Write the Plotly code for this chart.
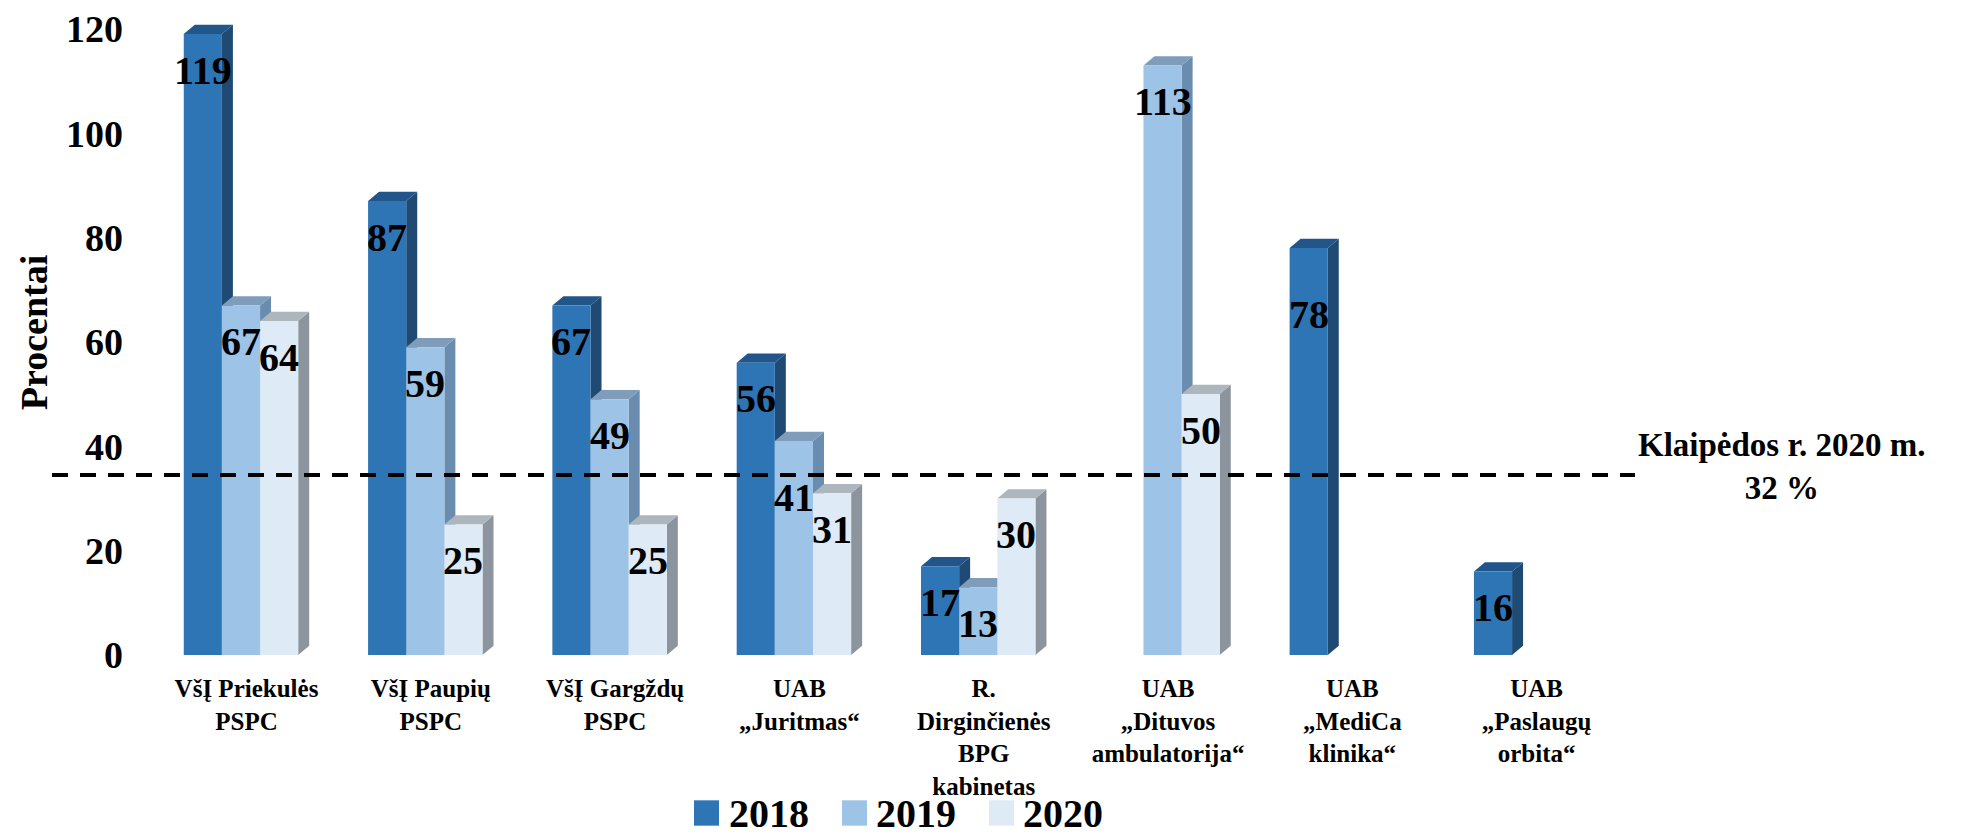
import plotly.graph_objects as go

# ---------------- data ----------------
categories = [
    "VšĮ Priekulės<br>PSPC",
    "VšĮ Paupių<br>PSPC",
    "VšĮ Gargždų<br>PSPC",
    "UAB<br>„Juritmas“",
    "R.<br>Dirginčienės<br>BPG<br>kabinetas",
    "UAB<br>„Dituvos<br>ambulatorija“",
    "UAB<br>„MediCa<br>klinika“",
    "UAB<br>„Paslaugų<br>orbita“",
]
years = ["2018", "2019", "2020"]
v2018 = [119, 87, 67, 56, 17, None, 78, 16]
v2019 = [67, 59, 49, 41, 13, 113, None, None]
v2020 = [64, 25, 25, 31, 30, 50, None, None]
y_ticks = [0, 20, 40, 60, 80, 100, 120]
ref_line_value = 34.5        # position of the dashed line as drawn
ref_label = "Klaipėdos r. 2020 m.<br>32 %"
y_title = "Procentai"

series = [v2018, v2019, v2020]

# ---------------- style ----------------
FONT = "Liberation Serif, Times New Roman, serif"
front_colors = ["#2E75B6", "#9DC3E6", "#DEEBF7"]
side_colors = ["#1F4A73", "#6A8CAE", "#8C959D"]
top_colors = ["#22568A", "#7F9DBB", "#ADB5BD"]

W, H = 1983, 837
L, R, T, B = 120, 343, 0, 190
plot_w = W - L - R
plot_h = H - T - B
x_range = [-0.613, 7.634]
y_range = [0, plot_h / 5.35]
px_x = plot_w / (x_range[1] - x_range[0])
px_y = plot_h / (y_range[1] - y_range[0])
bar_w = 0.207
dx = 11 / px_x
dy = 9.5 / px_y
label_shift = -36
# extra downward shift for labels moved clear of the dashed line (series index, category index)
label_extra_shift = {(1, 3): -20, (0, 6): -30}


def paper_x(px):
    return (px - L) / plot_w


def paper_y(py):
    return (H - B - py) / plot_h


fig = go.Figure()
shapes = []
annotations = []

for k, vals in enumerate(series):
    xs = [i + (k - 1) * bar_w for i in range(len(categories))]
    fig.add_trace(go.Bar(
        x=xs, y=vals, width=bar_w, name=years[k],
        marker=dict(color=front_colors[k], line=dict(width=0)),
        showlegend=False, hoverinfo="y",
    ))
    for i, (x, v) in enumerate(zip(xs, vals)):
        if v is None:
            continue
        x0, x1 = x - bar_w / 2, x + bar_w / 2
        side = f"M {x1},0 L {x1 + dx},{dy} L {x1 + dx},{v + dy} L {x1},{v} Z"
        top = f"M {x0},{v} L {x0 + dx},{v + dy} L {x1 + dx},{v + dy} L {x1},{v} Z"
        shapes.append(dict(type="path", path=side, xref="x", yref="y",
                           fillcolor=side_colors[k], line=dict(width=0), layer="below"))
        shapes.append(dict(type="path", path=top, xref="x", yref="y",
                           fillcolor=top_colors[k], line=dict(width=0), layer="below"))
        annotations.append(dict(
            x=x, y=v, xref="x", yref="y", text=str(v), showarrow=False,
            yshift=label_shift + label_extra_shift.get((k, i), 0),
            yanchor="middle", xanchor="center",
            font=dict(family=FONT, size=40, color="black", weight="bold"),
        ))

# dashed reference line
shapes.append(dict(type="line", xref="paper", yref="y",
                   x0=paper_x(44), x1=paper_x(1627), y0=ref_line_value, y1=ref_line_value,
                   line=dict(color="black", width=4, dash="16px,12px"), layer="above"))
annotations.append(dict(
    x=paper_x(1774), y=ref_line_value + 1.6, xref="paper", yref="y", text=ref_label,
    showarrow=False, xanchor="center", yanchor="middle", align="center",
    font=dict(family=FONT, size=33, color="black", weight="bold"),
))

# y-axis title
annotations.append(dict(
    x=paper_x(26), y=paper_y(317), xref="paper", yref="paper", text=y_title,
    showarrow=False, textangle=-90, xanchor="center", yanchor="middle",
    font=dict(family=FONT, size=38, color="black", weight="bold"),
))

# manual legend
leg_sq_x = [686, 834, 981]
leg_txt_x = [719, 866, 1013]
for k, yr in enumerate(years):
    shapes.append(dict(type="rect", xref="paper", yref="paper",
                       x0=paper_x(leg_sq_x[k]), x1=paper_x(leg_sq_x[k] + 25),
                       y0=paper_y(822), y1=paper_y(796),
                       fillcolor=front_colors[k], line=dict(width=0)))
    annotations.append(dict(
        x=paper_x(leg_txt_x[k]), y=paper_y(810), xref="paper", yref="paper", text=yr,
        showarrow=False, xanchor="left", yanchor="middle",
        font=dict(family=FONT, size=40, color="black", weight="bold"),
    ))

fig.update_layout(
    width=W, height=H,
    margin=dict(l=L, r=R, t=T, b=B, pad=0),
    paper_bgcolor="white", plot_bgcolor="white",
    barmode="overlay",
    showlegend=False,
    shapes=shapes, annotations=annotations,
    xaxis=dict(
        range=x_range, tickmode="array",
        tickvals=[i + dx / 2 for i in range(len(categories))],
        ticktext=categories, showgrid=False, zeroline=False, showline=False,
        ticks="", ticklabelstandoff=16,
        tickfont=dict(family=FONT, size=25, color="black", weight="bold"),
    ),
    yaxis=dict(
        range=y_range, tickmode="array", tickvals=y_ticks,
        showgrid=False, zeroline=False, showline=False, ticks="",
        ticklabelstandoff=4, ticklabeloverflow="allow",
        tickfont=dict(family=FONT, size=38, color="black", weight="bold"),
    ),
)

fig.write_html("out.html")
